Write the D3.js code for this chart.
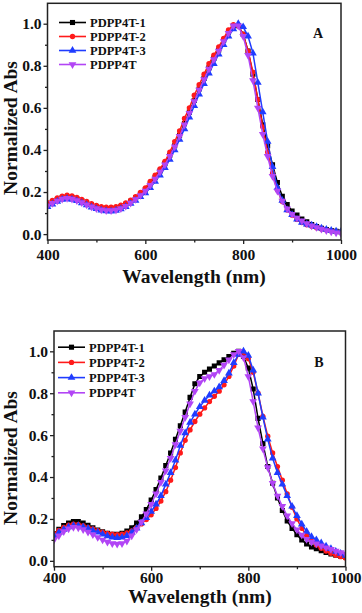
<!DOCTYPE html>
<html>
<head>
<meta charset="utf-8">
<script src="https://cdn.jsdelivr.net/npm/d3@7"></script>
<style>
  html, body { margin: 0; padding: 0; background: #fff; }
  svg { display: block; }
  svg text { font-family: "Liberation Serif", "Times New Roman", Times, serif; font-weight: bold; }
</style>
</head>
<body>
<svg id="chart" width="362" height="613"></svg>
<script>
// wavelength grid (nm)
const wavelength = [400,410,420,430,440,450,460,470,480,490,500,510,520,530,540,550,560,570,580,590,
  600,610,620,630,640,650,660,670,680,690,700,710,720,730,740,750,760,770,780,790,
  800,810,820,830,840,850,860,870,880,890,900,910,920,930,940,950,960,970,980,990,1000];

const seriesNames = ["PDPP4T-1", "PDPP4T-2", "PDPP4T-3", "PDPP4T"];
const seriesColors = ["#000000", "#ff1a1a", "#1f3cff", "#b245f5"];
const seriesSymbols = [d3.symbolSquare, d3.symbolCircle, d3.symbolTriangle, "down"];

// panel A (solution)
const absA1 = [0.14,0.152,0.164,0.173,0.176,0.174,0.167,0.158,0.148,0.138,0.13,0.123,0.12,0.12,0.123,0.13,0.142,0.156,0.172,0.19,
  0.21,0.238,0.268,0.3,0.335,0.375,0.42,0.47,0.525,0.58,0.635,0.69,0.74,0.79,0.835,0.875,0.92,0.96,0.99,0.99,
  0.95,0.87,0.76,0.64,0.52,0.42,0.33,0.245,0.18,0.14,0.11,0.09,0.072,0.058,0.046,0.036,0.028,0.022,0.017,0.013,0.01];
const absA2 = [0.15,0.16,0.172,0.181,0.185,0.182,0.175,0.165,0.155,0.145,0.137,0.131,0.128,0.128,0.131,0.138,0.148,0.162,0.178,0.198,
  0.22,0.25,0.28,0.31,0.345,0.39,0.44,0.49,0.55,0.6,0.66,0.71,0.76,0.81,0.85,0.89,0.93,0.97,0.995,0.99,
  0.95,0.87,0.77,0.64,0.51,0.39,0.29,0.21,0.155,0.115,0.09,0.07,0.055,0.045,0.037,0.03,0.024,0.019,0.015,0.012,0.01];
const absA3 = [0.13,0.142,0.155,0.165,0.168,0.165,0.158,0.148,0.138,0.128,0.12,0.113,0.11,0.109,0.112,0.119,0.13,0.145,0.16,0.177,
  0.195,0.22,0.25,0.28,0.315,0.355,0.4,0.45,0.5,0.555,0.61,0.665,0.715,0.765,0.81,0.855,0.9,0.94,0.975,1.0,
  0.985,0.94,0.86,0.72,0.58,0.44,0.32,0.22,0.16,0.115,0.092,0.07,0.055,0.047,0.042,0.035,0.028,0.022,0.017,0.014,0.012];
const absA4 = [0.135,0.147,0.158,0.167,0.17,0.167,0.16,0.15,0.14,0.13,0.122,0.116,0.112,0.112,0.115,0.122,0.133,0.148,0.165,0.184,
  0.205,0.232,0.262,0.295,0.33,0.37,0.415,0.465,0.52,0.575,0.63,0.685,0.735,0.785,0.83,0.87,0.915,0.955,0.99,0.99,
  0.94,0.85,0.73,0.6,0.475,0.37,0.275,0.205,0.158,0.12,0.095,0.077,0.063,0.05,0.04,0.032,0.024,0.017,0.011,0.006,0.003];

// panel B (film)
const absB1 = [0.13,0.15,0.168,0.18,0.188,0.187,0.18,0.17,0.158,0.147,0.138,0.131,0.127,0.127,0.132,0.142,0.158,0.18,0.21,0.245,
  0.29,0.34,0.395,0.455,0.515,0.58,0.645,0.71,0.78,0.845,0.88,0.9,0.915,0.93,0.945,0.96,0.975,0.99,1.0,0.975,
  0.92,0.82,0.68,0.56,0.45,0.37,0.3,0.24,0.19,0.155,0.125,0.1,0.08,0.066,0.058,0.048,0.04,0.033,0.027,0.022,0.018];
const absB2 = [0.13,0.145,0.16,0.17,0.175,0.174,0.168,0.16,0.152,0.144,0.137,0.131,0.127,0.125,0.127,0.133,0.143,0.158,0.176,0.197,
  0.22,0.25,0.285,0.33,0.385,0.445,0.515,0.575,0.625,0.665,0.7,0.73,0.76,0.785,0.81,0.84,0.88,0.93,0.985,0.995,
  0.965,0.9,0.8,0.69,0.595,0.515,0.45,0.385,0.32,0.255,0.2,0.155,0.12,0.095,0.075,0.06,0.047,0.036,0.027,0.02,0.014];
const absB3 = [0.12,0.135,0.15,0.162,0.168,0.167,0.162,0.154,0.145,0.136,0.127,0.119,0.113,0.11,0.112,0.12,0.135,0.155,0.18,0.205,
  0.235,0.27,0.31,0.365,0.42,0.48,0.55,0.61,0.66,0.7,0.735,0.765,0.79,0.81,0.83,0.86,0.895,0.945,0.985,1.0,
  0.98,0.91,0.8,0.685,0.58,0.49,0.42,0.365,0.31,0.26,0.215,0.175,0.14,0.115,0.1,0.085,0.07,0.058,0.045,0.035,0.025];
const absB4 = [0.1,0.12,0.14,0.153,0.16,0.158,0.15,0.138,0.125,0.112,0.1,0.09,0.083,0.08,0.083,0.095,0.12,0.15,0.185,0.225,
  0.27,0.32,0.375,0.43,0.49,0.555,0.62,0.685,0.75,0.81,0.85,0.87,0.88,0.89,0.91,0.935,0.96,0.985,1.0,0.97,
  0.88,0.76,0.635,0.535,0.445,0.37,0.31,0.26,0.215,0.178,0.148,0.123,0.103,0.09,0.082,0.072,0.063,0.055,0.047,0.04,0.034];

const xMajor = [400, 600, 800, 1000];
const xMinor = [500, 700, 900];
const yMajor = [0, 0.2, 0.4, 0.6, 0.8, 1.0];
const yMinor = [0.1, 0.3, 0.5, 0.7, 0.9];

const panels = [
  { label: "A", series: [absA1, absA2, absA3, absA4],
    left: 47.5, right: 341, top: 3.3, bottom: 240, xPad: 4.5,
    legendX: 59, legendY: 22.5, legendStep: 14,
    tagX: 318, tagY: 38, xTitleX: 194, xTitleY: 283, yTitleY: 128 },
  { label: "B", series: [absB1, absB2, absB3, absB4],
    left: 54, right: 345.5, top: 331, bottom: 566.7, xPad: 1,
    legendX: 58, legendY: 347.2, legendStep: 15.2,
    tagX: 319, tagY: 367, xTitleX: 200, xTitleY: 603, yTitleY: 458 }
];

const svg = d3.select("#chart");
const fontFam = "Liberation Serif, Times New Roman, Times, serif";

function symbolPath(sym, size) {
  if (sym === "down") {
    return d3.symbol().type(d3.symbolTriangle).size(size)();
  }
  return d3.symbol().type(sym).size(size)();
}

panels.forEach(p => {
  const x = d3.scaleLinear().domain([400, 1000]).range([p.left, p.right]);
  const y = d3.scaleLinear().domain([-0.028, 1.097]).range([p.bottom, p.top]);
  const g = svg.append("g");

  // axes (ticks point outward)
  g.append("g").attr("transform", `translate(0,${p.bottom})`)
    .call(d3.axisBottom(x).tickValues(xMajor).tickSize(4).tickPadding(p.xPad).tickFormat(d3.format("d")));
  g.append("g").attr("transform", `translate(0,${p.bottom})`)
    .call(d3.axisBottom(x).tickValues(xMinor).tickSize(2.5).tickFormat(""));
  g.append("g").attr("transform", `translate(${p.left},0)`)
    .call(d3.axisLeft(y).tickValues(yMajor).tickSize(4).tickPadding(2).tickFormat(d3.format(".1f")));
  g.append("g").attr("transform", `translate(${p.left},0)`)
    .call(d3.axisLeft(y).tickValues(yMinor).tickSize(2.5).tickFormat(""));
  g.selectAll(".domain").remove();
  g.selectAll(".tick line").attr("stroke", "#222").attr("stroke-width", 1.3);
  g.selectAll(".tick text")
    .attr("font-family", fontFam)
    .attr("font-weight", "bold").attr("font-size", 15.5).attr("fill", "#111");

  // curves, black first and purple last
  const clipId = "clip" + p.label;
  g.append("clipPath").attr("id", clipId).append("rect")
    .attr("x", p.left).attr("y", p.top).attr("width", p.right - p.left).attr("height", p.bottom - p.top);
  const plot = g.append("g").attr("clip-path", `url(#${clipId})`);
  const line = d3.line().x((d, i) => x(wavelength[i])).y(d => y(d));

  p.series.forEach((vals, si) => {
    const col = seriesColors[si];
    plot.append("path").datum(vals)
      .attr("fill", "none").attr("stroke", col).attr("stroke-width", 1.5)
      .attr("d", line);
    plot.selectAll(null).data(vals).join("path")
      .attr("d", symbolPath(seriesSymbols[si], si === 1 ? 22 : 26))
      .attr("transform", (d, i) => `translate(${x(wavelength[i])},${y(d)})` + (seriesSymbols[si] === "down" ? " rotate(180)" : ""))
      .attr("fill", col);
  });

  // frame
  g.append("rect")
    .attr("x", p.left).attr("y", p.top)
    .attr("width", p.right - p.left).attr("height", p.bottom - p.top)
    .attr("fill", "none").attr("stroke", "#222").attr("stroke-width", 1.5);

  // legend
  const leg = g.append("g");
  seriesNames.forEach((name, si) => {
    const ly = p.legendY + si * p.legendStep;
    leg.append("line").attr("x1", p.legendX).attr("x2", p.legendX + 27)
      .attr("y1", ly).attr("y2", ly)
      .attr("stroke", seriesColors[si]).attr("stroke-width", 1.6);
    leg.append("path")
      .attr("d", symbolPath(seriesSymbols[si], si === 1 ? 22 : 26))
      .attr("transform", `translate(${p.legendX + 13.5},${ly})` + (seriesSymbols[si] === "down" ? " rotate(180)" : ""))
      .attr("fill", seriesColors[si]);
    leg.append("text").attr("x", p.legendX + 31).attr("y", ly + 4.3)
      .attr("font-size", 12.5).attr("fill", "#111").text(name);
  });

  // panel tag
  g.append("text").attr("x", p.tagX).attr("y", p.tagY)
    .attr("text-anchor", "middle").attr("font-size", 14).attr("fill", "#111").text(p.label);

  // axis titles
  g.append("text").attr("x", p.xTitleX).attr("y", p.xTitleY)
    .attr("text-anchor", "middle").attr("font-size", 19.5).attr("fill", "#111")
    .text("Wavelength (nm)");
  g.append("text")
    .attr("transform", `translate(17,${p.yTitleY}) rotate(-90)`)
    .attr("text-anchor", "middle").attr("font-size", 19.5).attr("fill", "#111")
    .text("Normalized Abs");
});
</script>
</body>
</html>
